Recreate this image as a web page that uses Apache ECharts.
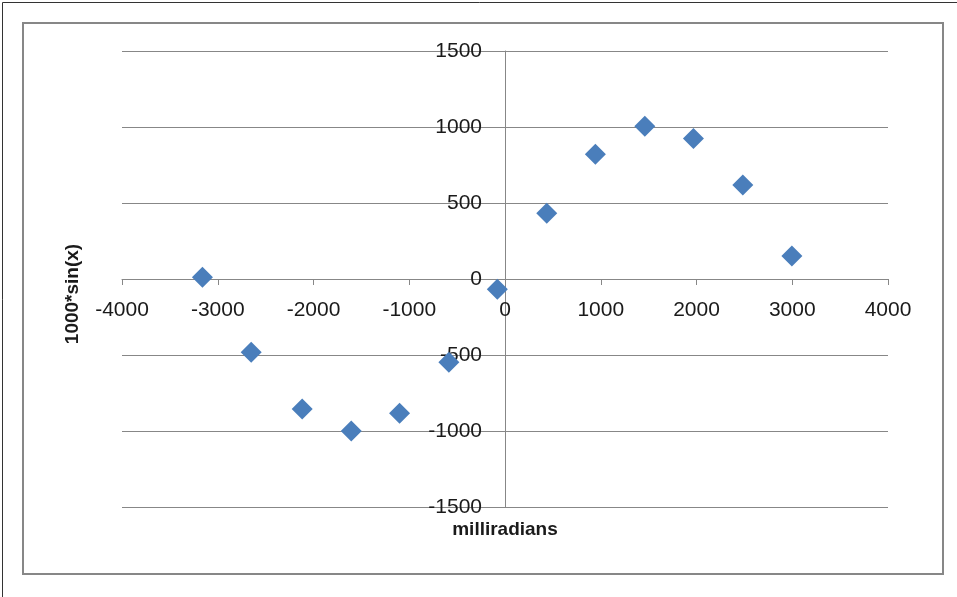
<!DOCTYPE html>
<html>
<head>
<meta charset="utf-8">
<script src="https://cdn.jsdelivr.net/npm/echarts@6/dist/echarts.min.js"></script>
<style>
html,body{margin:0;padding:0;background:#fff;}
#chart{width:957px;height:597px;}
</style>
</head>
<body>
<div id="chart"></div>
<script>
// Data
const xValues = [-3160, -2651, -2118, -1606, -1101, -586, -80, 436, 944, 1460, 1968, 2484, 2996];
const yValues = [11, -482, -855, -1000, -884, -548, -68, 432, 820, 1005, 925, 618, 151];
const xAxisTitle = 'milliradians';
const yAxisTitle = '1000*sin(x)';
const xTicks = { min: -4000, max: 4000, interval: 1000 };
const yTicks = { min: -1500, max: 1500, interval: 500 };

const points = xValues.map((x, i) => [x, yValues[i]]);

const FONT = '"Liberation Sans", Arial, sans-serif';
const chart = echarts.init(document.getElementById('chart'), null, { renderer: 'canvas' });
chart.setOption({
  animation: false,
  backgroundColor: '#ffffff',
  graphic: [
    { type: 'line', shape: { x1: 2.5, y1: 2.5, x2: 957, y2: 2.5 }, style: { stroke: '#333333', lineWidth: 1 }, silent: true },
    { type: 'line', shape: { x1: 2.5, y1: 2.5, x2: 2.5, y2: 597 }, style: { stroke: '#333333', lineWidth: 1 }, silent: true },
    { type: 'rect', shape: { x: 23, y: 23, width: 920, height: 551 }, style: { fill: 'none', stroke: '#878787', lineWidth: 2 }, silent: true }
  ],
  grid: { left: 122, right: 69, top: 51, bottom: 90, containLabel: false, outerBoundsMode: 'none' },
  xAxis: {
    type: 'value',
    min: xTicks.min, max: xTicks.max, interval: xTicks.interval,
    position: 'bottom',
    offset: -228,
    name: xAxisTitle,
    nameLocation: 'middle',
    nameGap: 241,
    nameMoveOverlap: false,
    nameTextStyle: { fontFamily: FONT, fontWeight: 'bold', fontSize: 19, color: '#1a1a1a' },
    axisLine: { show: true, onZero: false, lineStyle: { color: '#878787', width: 1 } },
    axisTick: { show: true, inside: false, length: 6, lineStyle: { color: '#878787' } },
    axisLabel: { margin: 21, fontFamily: FONT, fontSize: 21, color: '#1a1a1a', formatter: v => String(v) },
    splitLine: { show: false }
  },
  yAxis: {
    type: 'value',
    min: yTicks.min, max: yTicks.max, interval: yTicks.interval,
    position: 'left',
    offset: -383,
    name: yAxisTitle,
    nameLocation: 'middle',
    nameGap: 423,
    nameMoveOverlap: false,
    nameTextStyle: { fontFamily: FONT, fontWeight: 'bold', fontSize: 19, color: '#1a1a1a', padding: [0, 30, 0, 0] },
    axisLine: { show: true, onZero: false, lineStyle: { color: '#878787', width: 1 } },
    axisTick: { show: false },
    axisLabel: { margin: 23, fontFamily: FONT, fontSize: 21, color: '#1a1a1a', formatter: v => String(v) },
    splitLine: { show: true, lineStyle: { color: '#878787', width: 1 } }
  },
  series: [{
    type: 'scatter',
    data: points,
    symbol: 'diamond',
    symbolSize: 21,
    itemStyle: { color: '#4A7EBB', opacity: 1 }
  }]
});
</script>
</body>
</html>
